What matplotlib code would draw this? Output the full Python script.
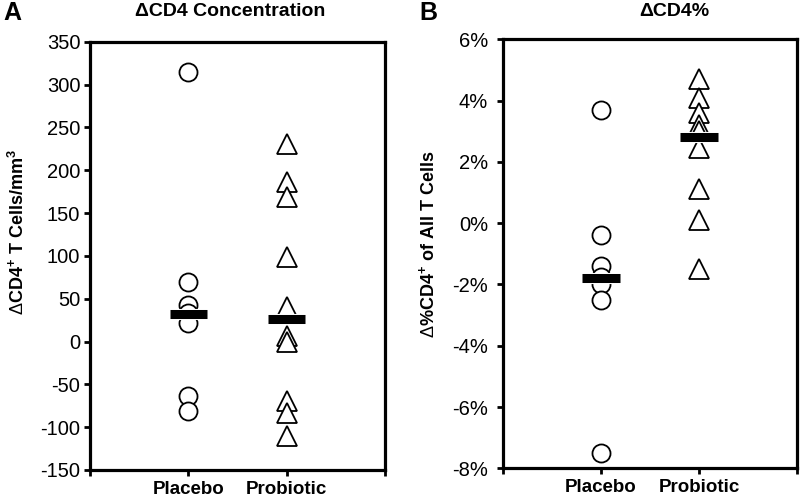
import numpy as np
import matplotlib
matplotlib.use("Agg")
import matplotlib.pyplot as plt
import matplotlib.patheffects as pe
from matplotlib.ticker import FuncFormatter

plt.rcParams['font.family'] = ['Liberation Sans', 'DejaVu Sans']
plt.rcParams['mathtext.fontset'] = 'custom'
plt.rcParams['mathtext.rm'] = 'Liberation Sans'
plt.rcParams['mathtext.bf'] = 'Liberation Sans:bold'
plt.rcParams['axes.unicode_minus'] = False

# ==============================================================================
# DATA
# ==============================================================================
groups = ["Placebo", "Probiotic"]

conc_placebo = [315, 70, 43, 33, 22, -64, -81]
conc_probiotic = [231, 186, 169, 99, 40, 7, 0, -69, -84, -110]
conc_medians = [32, 26]

pct_placebo = [3.7, -0.4, -1.4, -1.75, -2.0, -2.5, -7.5]
pct_probiotic = [4.7, 4.1, 3.6, 3.2, 3.0, 2.45, 1.1, 0.1, -1.5]
pct_medians = [-1.8, 2.8]

conc_ticks = [-150, -100, -50, 0, 50, 100, 150, 200, 250, 300, 350]
pct_ticks = [-8, -6, -4, -2, 0, 2, 4, 6]


def dot_panel(ax, placebo, probiotic, medians, yticks):
    ax.plot(np.full(len(placebo), 1), placebo, 'o', ms=13, mfc='white',
            mec='black', mew=1.3, ls='none', zorder=3)
    ax.plot(np.full(len(probiotic), 2), probiotic, '^', ms=14.5, mfc='white',
            mec='black', mew=1.3, ls='none', zorder=3)
    for xi, m in zip([1, 2], medians):
        ax.plot([xi - 0.19, xi + 0.19], [m, m], color='black', lw=6.5,
                solid_capstyle='butt', zorder=4,
                path_effects=[pe.withStroke(linewidth=8, foreground='white')])

    ax.set_xlim(0, 3)
    ax.set_ylim(yticks[0], yticks[-1])
    ax.set_yticks(yticks)
    ax.set_xticks([0, 1, 2, 3])
    ax.set_xticklabels(["", groups[0], groups[1], ""], fontsize=13.5, fontweight='bold')
    for s in ax.spines.values():
        s.set_linewidth(2.3)
    ax.tick_params(axis='y', direction='out', length=4, width=2, labelsize=14.5, pad=3)
    ax.tick_params(axis='x', direction='out', length=4, width=2, pad=4)


fig = plt.figure(figsize=(8, 5.04), dpi=100)

ax1 = fig.add_axes([0.1125, 0.0675, 0.369, 0.8496])
dot_panel(ax1, conc_placebo, conc_probiotic, conc_medians, conc_ticks)

ax2 = fig.add_axes([0.629, 0.0708, 0.367, 0.8512])
dot_panel(ax2, pct_placebo, pct_probiotic, pct_medians, pct_ticks)
ax2.yaxis.set_major_formatter(FuncFormatter(lambda v, p: f"{v:.0f}%"))
ax2.tick_params(axis='y', pad=7)

# titles, panel letters and y labels
fig.text(12 / 800, 1 - 13 / 504, "A", fontsize=18, fontweight='bold', ha='center', va='center')
fig.text(428 / 800, 1 - 13 / 504, "B", fontsize=18, fontweight='bold', ha='center', va='center')
fig.text(230 / 800, 1 - 12 / 504, "\u0394CD4 Concentration", fontsize=14, fontweight='bold',
         ha='center', va='center')
fig.text(674 / 800, 1 - 12 / 504, "\u0394CD4%", fontsize=14, fontweight='bold',
         ha='center', va='center')
fig.text(18 / 800, 1 - 232 / 504, r"$\Delta$CD4$^{\mathbf{+}}$ T Cells/mm$^{\mathbf{3}}$",
         fontsize=13, fontweight='bold', rotation=90, ha='center', va='center')
fig.text(428 / 800, 1 - 244 / 504, r"$\Delta$%CD4$^{\mathbf{+}}$ of All T Cells",
         fontsize=13, fontweight='bold', rotation=90, ha='center', va='center')

plt.savefig("out.png", dpi=100)
